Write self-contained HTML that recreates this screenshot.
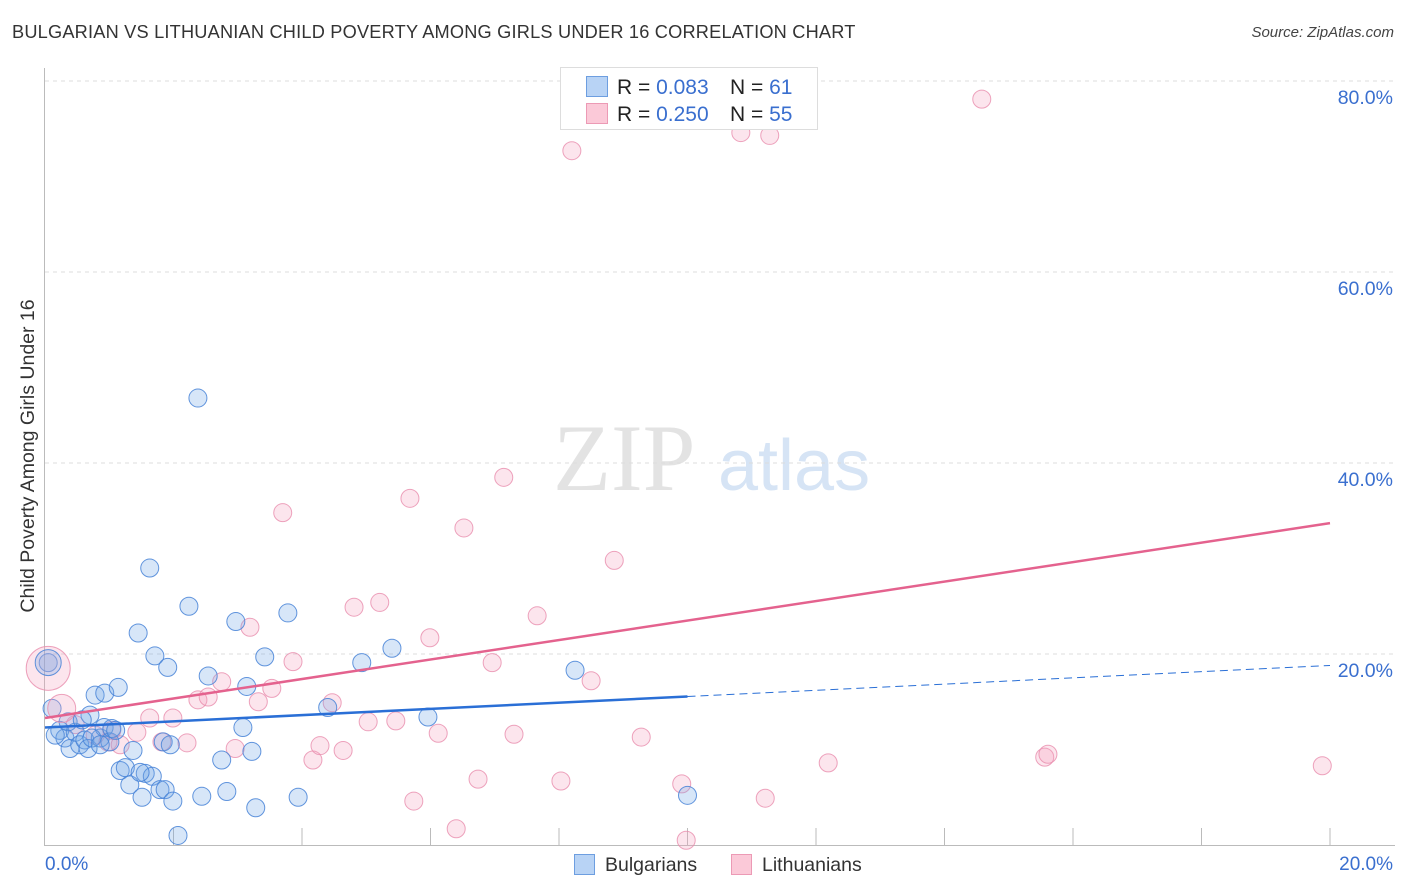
<!DOCTYPE html>
<html><head><meta charset="utf-8"><style>
body{margin:0;background:#fff;font-family:"Liberation Sans",sans-serif;}
#wrap{position:relative;width:1406px;height:892px;overflow:hidden;}
.t{position:absolute;white-space:nowrap;}
</style></head><body>
<div id="wrap">
<div class="t" style="left:12px;top:22px;font-size:18.2px;color:#333;letter-spacing:0.2px">BULGARIAN VS LITHUANIAN CHILD POVERTY AMONG GIRLS UNDER 16 CORRELATION CHART</div>
<div class="t" style="right:12px;top:24px;font-size:15px;color:#444;font-style:italic">Source: ZipAtlas.com</div>
<svg id="svg" width="1406" height="892" style="position:absolute;left:0;top:0"></svg>
</div>
<script>
const xTickLabels=["0.0%","20.0%"];
const yTicks=[20,40,60,80];
const yTickLabels=["20.0%","40.0%","60.0%","80.0%"];
const bulgX=[0.05,0.11,0.23,0.31,0.39,0.47,0.54,0.62,0.67,0.70,0.78,0.86,0.92,0.93,1.01,1.04,1.14,1.17,1.25,1.32,1.37,1.45,1.51,1.56,1.63,1.67,1.71,1.79,1.84,1.87,1.91,1.99,2.07,2.24,2.38,2.44,2.54,2.75,2.83,2.97,3.08,3.14,3.22,3.28,3.42,3.78,3.94,4.40,4.93,5.40,5.96,8.25,10.0,0.16,0.36,0.73,1.10,1.48,1.95,0.86,0.58];
const bulgY=[19.1,14.3,12.0,11.2,10.1,11.8,10.5,11.0,10.1,13.6,15.7,11.2,12.3,15.9,10.8,12.2,16.5,7.8,8.1,6.3,9.9,22.2,5.0,7.5,29.0,7.2,19.8,5.8,10.8,5.8,18.6,4.6,1.0,25.0,46.8,5.1,17.7,8.9,5.6,23.4,12.3,16.6,9.8,3.9,19.7,24.3,5.0,14.4,19.1,20.6,13.4,18.3,5.2,11.5,12.9,11.2,12.0,7.6,10.5,10.5,13.1];
const lithX=[0.47,0.78,0.98,1.04,1.17,1.43,1.63,1.82,1.99,2.21,2.38,2.54,2.75,2.96,3.19,3.32,3.53,3.70,3.86,4.17,4.28,4.47,4.64,4.81,5.03,5.21,5.46,5.68,5.74,5.99,6.12,6.40,6.52,6.74,6.96,7.14,7.30,7.66,8.03,8.20,8.50,8.86,9.28,9.91,9.98,10.83,11.21,11.28,12.19,14.58,15.56,15.61,19.88];
const lithY=[12.6,11.5,10.8,12.0,10.5,11.8,13.3,10.8,13.3,10.7,15.2,15.5,17.1,10.1,22.8,15.0,16.4,34.8,19.2,8.9,10.4,14.9,9.9,24.9,12.9,25.4,13.0,36.3,4.6,21.7,11.7,1.7,33.2,6.9,19.1,38.5,11.6,24.0,6.7,72.7,17.2,29.8,11.3,6.4,0.5,74.6,4.9,74.3,8.6,78.1,9.2,9.5,8.3];
const bigX=[0.05,0.05,0.26];
const bigY=[18.5,19.1,14.3];
const trendIntercept=[12.3,13.3];
const trendSlope=[0.325,1.02];
const legendR=["0.083","0.250"];
const legendN=["61","55"];

const X=v=>45+v*(1330-45)/20;
const Y=v=>845-v*(845-81)/80;
const svg=document.getElementById('svg');
const NS="http://www.w3.org/2000/svg";
function mk(tag,at,parent){const e=document.createElementNS(NS,tag);for(const k in at)e.setAttribute(k,at[k]);(parent||svg).appendChild(e);return e;}

let w=mk('text',{x:553,y:490,'font-family':'Liberation Serif,serif','font-size':95,fill:'#e3e3e3'});w.textContent='ZIP';


w=mk('text',{x:718,y:490,'font-family':'Liberation Sans,sans-serif','font-size':72,fill:'#d6e4f5'});w.textContent='atlas';



yTicks.forEach((t,i)=>{
 const g=mk('line',{x1:45,x2:1395,y1:Y(t),y2:Y(t),stroke:'#dcdcdc','stroke-dasharray':'4,4'});
 
 
 const l=mk('text',{x:1393,y:Y(t)+23,'text-anchor':'end','font-size':19.5,fill:'#3a6fcf','font-family':'Liberation Sans,sans-serif'});
 l.textContent=yTickLabels[i];
 
 
});
let a=mk('line',{x1:44.5,x2:44.5,y1:68,y2:846,stroke:'#bbb'});


a=mk('line',{x1:44,x2:1395,y1:845.5,y2:845.5,stroke:'#bbb'});


for(let i=1;i<=10;i++){const tk=mk('line',{x1:X(i*2),x2:X(i*2),y1:828,y2:845,stroke:'#bbb'});
 
 }
[[0,'start',45],[20,'end',1393]].forEach((d,i)=>{const l=mk('text',{x:d[2],y:870,'text-anchor':d[1],'font-size':19,fill:'#3a6fcf','font-family':'Liberation Sans,sans-serif'});l.textContent=xTickLabels[i];
 
 });
let yl=mk('text',{x:0,y:0,transform:'translate(34,456) rotate(-90)','text-anchor':'middle','font-size':19.5,fill:'#333','font-family':'Liberation Sans,sans-serif'});
yl.textContent='Child Poverty Among Girls Under 16';



function pts(xs,ys,fill,stroke,name,r){xs.forEach((x,i)=>{const c=mk('circle',{cx:X(x),cy:Y(ys[i]),r:r,fill:fill,stroke:stroke,'stroke-width':1});
 
 });}
pts(lithX,lithY,'rgba(244,160,190,0.28)','rgba(232,140,172,0.8)','lithuanian-point',9);
pts(bulgX,bulgY,'rgba(110,165,230,0.28)','rgba(70,130,215,0.85)','bulgarian-point',9);
[[0,22,'rgba(244,160,190,0.28)','rgba(232,140,172,0.8)'],[1,13,'rgba(110,165,230,0.28)','rgba(70,130,215,0.85)'],[2,14,'rgba(244,160,190,0.28)','rgba(232,140,172,0.8)']].forEach(d=>{
 const c=mk('circle',{cx:X(bigX[d[0]]),cy:Y(bigY[d[0]]),r:d[1],fill:d[2],stroke:d[3],'stroke-width':1});
 
 });

let tl=mk('line',{x1:X(0),y1:Y(trendIntercept[0]),x2:X(10),y2:Y(trendIntercept[0]+trendSlope[0]*10),stroke:'#2a6fd6','stroke-width':2.5});


tl=mk('line',{x1:X(10),y1:Y(trendIntercept[0]+trendSlope[0]*10),x2:X(20),y2:Y(trendIntercept[0]+trendSlope[0]*20),stroke:'#2a6fd6','stroke-width':1,'stroke-dasharray':'8,5'});


tl=mk('line',{x1:X(0),y1:Y(trendIntercept[1]),x2:X(20),y2:Y(trendIntercept[1]+trendSlope[1]*20),stroke:'#e4628e','stroke-width':2.5});



let lb=mk('rect',{x:560.5,y:67.5,width:257,height:62,fill:'#fff',stroke:'#ddd'});


[['#b8d3f5','#6d9ee0'],['#fbc9d8','#ec9ab5']].forEach((c,i)=>{
 const y=76+i*27;
 const s=mk('rect',{x:586.5,y:y+0.5,width:21,height:20,fill:c[0],stroke:c[1]});
 
 
 const t=mk('text',{x:617,y:y+18,'font-size':21,fill:'#222','font-family':'Liberation Sans,sans-serif'});
 t.innerHTML='R = <tspan fill="#3a6fcf">'+legendR[i]+'</tspan>';
 
 
 const n=mk('text',{x:730,y:y+18,'font-size':21,fill:'#222','font-family':'Liberation Sans,sans-serif'});
 n.innerHTML='N = <tspan fill="#3a6fcf">'+(i==0?' ':'')+legendN[i]+'</tspan>';
 
 
});
[['Bulgarians',574,'#b8d3f5','#6d9ee0'],['Lithuanians',731,'#fbc9d8','#ec9ab5']].forEach(d=>{
 const s=mk('rect',{x:d[1]+0.5,y:854.5,width:20,height:20,fill:d[2],stroke:d[3]});
 
 
 const t=mk('text',{x:d[1]+31,y:871,'font-size':19.5,fill:'#333','font-family':'Liberation Sans,sans-serif'});
 t.textContent=d[0];
 
 
});
</script>
</body></html>
